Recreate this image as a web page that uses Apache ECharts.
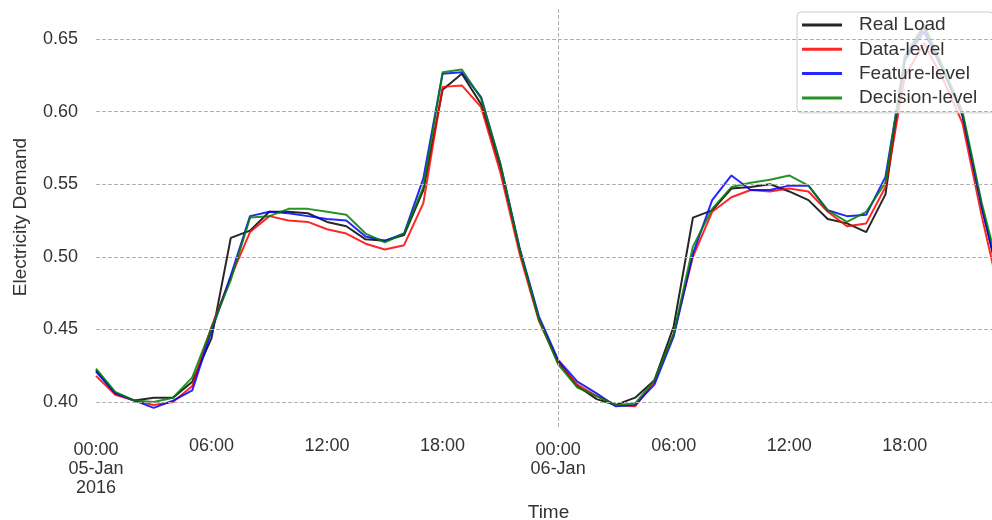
<!DOCTYPE html>
<html>
<head>
<meta charset="utf-8">
<script src="https://cdn.jsdelivr.net/npm/echarts@6/dist/echarts.min.js"></script>
<style>
  html, body { margin: 0; padding: 0; background: #fff; }
  #chart { width: 992px; height: 520px; }
</style>
</head>
<body>
<div id="chart"></div>
<script>
// hours since 00:00 05-Jan-2016
var hours = [];
for (var i = 0; i < 48; i++) hours.push(i);

var realLoad = [0.422, 0.406, 0.401, 0.403, 0.403, 0.414, 0.444, 0.513, 0.518, 0.531, 0.531, 0.530,
                0.524, 0.521, 0.512, 0.511, 0.515, 0.546, 0.615, 0.626, 0.605, 0.562, 0.505, 0.457,
                0.428, 0.411, 0.402, 0.398, 0.403, 0.415, 0.452, 0.527, 0.532, 0.547, 0.548, 0.550,
                0.545, 0.539, 0.526, 0.523, 0.517, 0.543, 0.636, 0.658, 0.628, 0.597, 0.535, 0.478];
var dataLevel = [0.418, 0.405, 0.401, 0.398, 0.400, 0.411, 0.452, 0.486, 0.517, 0.528, 0.525, 0.524,
                 0.519, 0.516, 0.509, 0.505, 0.508, 0.537, 0.617, 0.618, 0.603, 0.558, 0.502, 0.456,
                 0.427, 0.412, 0.404, 0.398, 0.397, 0.414, 0.447, 0.500, 0.531, 0.541, 0.546, 0.545,
                 0.547, 0.545, 0.531, 0.521, 0.523, 0.548, 0.624, 0.647, 0.622, 0.592, 0.528, 0.470];
var featureLevel = [0.421, 0.406, 0.401, 0.396, 0.401, 0.408, 0.449, 0.487, 0.528, 0.531, 0.530, 0.528,
                    0.526, 0.525, 0.514, 0.511, 0.516, 0.554, 0.626, 0.627, 0.610, 0.564, 0.506, 0.459,
                    0.429, 0.414, 0.406, 0.397, 0.398, 0.412, 0.445, 0.502, 0.539, 0.556, 0.546, 0.546,
                    0.549, 0.549, 0.532, 0.528, 0.529, 0.555, 0.635, 0.655, 0.628, 0.598, 0.534, 0.480];
var decisionLevel = [0.423, 0.407, 0.401, 0.400, 0.403, 0.417, 0.451, 0.484, 0.527, 0.528, 0.533, 0.533,
                     0.531, 0.529, 0.516, 0.510, 0.516, 0.548, 0.627, 0.629, 0.609, 0.564, 0.505, 0.457,
                     0.426, 0.410, 0.404, 0.398, 0.399, 0.415, 0.447, 0.507, 0.533, 0.548, 0.551, 0.553,
                     0.556, 0.549, 0.532, 0.524, 0.531, 0.551, 0.638, 0.660, 0.630, 0.600, 0.537, 0.485];

var yTicks = [0.40, 0.45, 0.50, 0.55, 0.60, 0.65];
var xTickLabels = {
    0: '{s| }\n00:00\n05-Jan\n2016',
    6: '06:00',
    12: '12:00',
    18: '18:00',
    24: '{s| }\n00:00\n06-Jan',
    30: '06:00',
    36: '12:00',
    42: '18:00'
};
var dayBreaks = [24];
var seriesNames = ['Real Load', 'Data-level', 'Feature-level', 'Decision-level'];

var fontFamily = '"Liberation Sans", Arial, "DejaVu Sans", sans-serif';
var gridLine = { color: '#b0b0b0', width: 1, type: [4, 2] };

function pairs(arr) {
    return hours.map(function(h, i) { return [h, arr[i]]; });
}

var chart = echarts.init(document.getElementById('chart'));
chart.setOption({
    animation: false,
    backgroundColor: '#ffffff',
    textStyle: { fontFamily: fontFamily },

    // plot runs slightly past the right edge of the picture (cropped in the original)
    grid: { left: 96, width: 905, top: 7, height: 420, containLabel: false, outerBoundsMode: 'none' },

    legend: {
        data: seriesNames.map(function(n) { return { name: n, icon: 'rect' }; }),
        orient: 'vertical',
        left: 797,
        top: 12,
        padding: [3, 16, 5, 5],
        itemWidth: 40,
        itemHeight: 3,
        itemGap: 4.3,
        backgroundColor: 'rgba(255,255,255,0.8)',
        borderColor: '#cccccc',
        borderWidth: 1,
        borderRadius: 4,
        textStyle: { fontSize: 19, lineHeight: 20, color: '#333', fontFamily: fontFamily, padding: [0, 0, 0, 12] }
    },

    xAxis: {
        type: 'value',
        min: 0,
        max: 47,
        interval: 6,
        name: 'Time',
        nameLocation: 'middle',
        nameGap: 70,
        nameTextStyle: { fontSize: 19, color: '#333' },
        axisLine: { show: false },
        axisTick: { show: false },
        splitLine: { show: false },
        axisLabel: {
            margin: 10,
            fontSize: 18,
            color: '#333',
            lineHeight: 19,
            formatter: function(v) { return xTickLabels[v] || ''; },
            rich: { s: { fontSize: 1, lineHeight: 4 } }
        }
    },

    yAxis: {
        type: 'value',
        min: 0.3828,
        max: 0.6720,
        name: 'Electricity Demand',
        nameLocation: 'middle',
        nameGap: 66,
        nameTextStyle: { fontSize: 19, color: '#333' },
        axisLine: { show: false },
        axisTick: { show: false },
        splitLine: { show: false },
        axisLabel: {
            customValues: yTicks,
            margin: 18,
            fontSize: 18,
            color: '#333',
            formatter: function(v) { return v.toFixed(2); }
        }
    },

    series: [
        {
            name: '_grid',
            type: 'line',
            data: [],
            z: 1,
            silent: true,
            markLine: {
                silent: true,
                symbol: 'none',
                animation: false,
                label: { show: false },
                lineStyle: gridLine,
                data: yTicks.map(function(v) { return { yAxis: v }; })
                    .concat(dayBreaks.map(function(v) { return { xAxis: v }; }))
            }
        },
        {
            name: 'Real Load', type: 'line', data: pairs(realLoad), z: 3,
            symbol: 'none', color: 'rgba(0,0,0,0.85)', lineStyle: { width: 2 }
        },
        {
            name: 'Data-level', type: 'line', data: pairs(dataLevel), z: 3,
            symbol: 'none', color: 'rgba(255,0,0,0.85)', lineStyle: { width: 2 }
        },
        {
            name: 'Feature-level', type: 'line', data: pairs(featureLevel), z: 3,
            symbol: 'none', color: 'rgba(0,0,255,0.85)', lineStyle: { width: 2 }
        },
        {
            name: 'Decision-level', type: 'line', data: pairs(decisionLevel), z: 3,
            symbol: 'none', color: 'rgba(0,128,0,0.85)', lineStyle: { width: 2 }
        }
    ]
});
</script>
</body>
</html>
